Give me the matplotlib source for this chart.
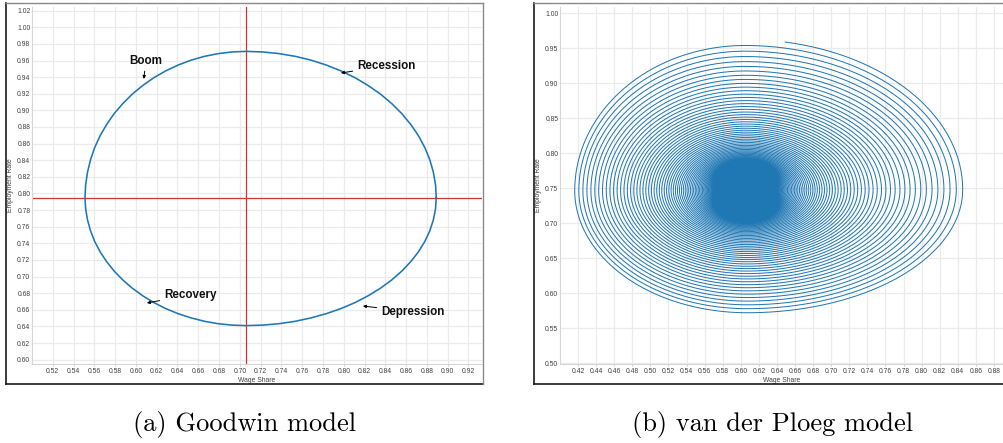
import numpy as np
import matplotlib
matplotlib.use("Agg")
import matplotlib.pyplot as plt
from matplotlib.lines import Line2D

W, H = 1004, 443

# (a) Goodwin model: closed orbit (counter-clockwise from the right)
wage_share_a = [
    0.8890, 0.8883, 0.8862, 0.8828, 0.8780, 0.8719, 0.8645, 0.8559, 0.8462, 0.8354,
    0.8236, 0.8110, 0.7975, 0.7833, 0.7686, 0.7534, 0.7378, 0.7220, 0.7060,
    0.6925, 0.6791, 0.6659, 0.6530, 0.6405, 0.6285, 0.6171, 0.6064, 0.5964,
    0.5873, 0.5790, 0.5718, 0.5655, 0.5603, 0.5563, 0.5534, 0.5516, 0.5510,
    0.5516, 0.5534, 0.5563, 0.5603, 0.5655, 0.5718, 0.5790, 0.5873, 0.5964,
    0.6064, 0.6171, 0.6285, 0.6405, 0.6530, 0.6659, 0.6791, 0.6925, 0.7060,
    0.7220, 0.7378, 0.7534, 0.7686, 0.7833, 0.7975, 0.8110, 0.8236, 0.8354,
    0.8462, 0.8559, 0.8645, 0.8719, 0.8780, 0.8828, 0.8862, 0.8883, 0.8890]
employment_a = [
    0.7950, 0.8103, 0.8256, 0.8405, 0.8552, 0.8694, 0.8830, 0.8960, 0.9081, 0.9195,
    0.9298, 0.9392, 0.9474, 0.9545, 0.9604, 0.9650, 0.9683, 0.9703, 0.9710,
    0.9703, 0.9683, 0.9650, 0.9604, 0.9545, 0.9474, 0.9392, 0.9298, 0.9195,
    0.9081, 0.8960, 0.8830, 0.8694, 0.8552, 0.8405, 0.8256, 0.8103, 0.7950,
    0.7816, 0.7683, 0.7551, 0.7423, 0.7299, 0.7180, 0.7067, 0.6960, 0.6861,
    0.6770, 0.6688, 0.6616, 0.6554, 0.6503, 0.6462, 0.6433, 0.6416, 0.6410,
    0.6416, 0.6433, 0.6462, 0.6503, 0.6554, 0.6616, 0.6688, 0.6770, 0.6861,
    0.6960, 0.7067, 0.7180, 0.7299, 0.7423, 0.7551, 0.7683, 0.7816, 0.7950]
equilibrium_a = (0.7055, 0.795)

labels_a = ["Boom", "Recession", "Depression", "Recovery"]
label_pos_a = [(0.6095, 0.9594), (0.8126, 0.9534), (0.8357, 0.6574), (0.6268, 0.6779)]
label_tip_a = [(0.6076, 0.9378), (0.7972, 0.9450), (0.8184, 0.6646), (0.6105, 0.6682)]
label_ha_a = ["center", "left", "left", "left"]

xticks_a = [0.52, 0.54, 0.56, 0.58, 0.60, 0.62, 0.64, 0.66, 0.68, 0.70, 0.72,
            0.74, 0.76, 0.78, 0.80, 0.82, 0.84, 0.86, 0.88, 0.90, 0.92]
yticks_a = [0.60, 0.62, 0.64, 0.66, 0.68, 0.70, 0.72, 0.74, 0.76, 0.78, 0.80,
            0.82, 0.84, 0.86, 0.88, 0.90, 0.92, 0.94, 0.96, 0.98, 1.00, 1.02]

# (b) van der Ploeg model: damped spiral
centre_b = (0.606, 0.747)
start_half_axes_b = {"right": 0.241, "left": 0.193, "top": 0.215, "bottom": 0.178}
start_angle_b = 0.18          # clockwise from the top, radians
n_turns_b = 170
decay_x_b = (0.027, 0.031)    # per turn: early, late
decay_y_b = (0.038, 0.031)
decay_settle_b = 10.0         # turns

xticks_b = [0.42, 0.44, 0.46, 0.48, 0.50, 0.52, 0.54, 0.56, 0.58, 0.60, 0.62, 0.64,
            0.66, 0.68, 0.70, 0.72, 0.74, 0.76, 0.78, 0.80, 0.82, 0.84, 0.86, 0.88]
yticks_b = [0.50, 0.55, 0.60, 0.65, 0.70, 0.75, 0.80, 0.85, 0.90, 0.95, 1.00]

BLUE = "#1f77b4"
TICK_FONT = "Liberation Sans"


def fx(px):
    return px / W


def fy(py):
    return 1 - py / H


def style_axes(ax, xticks, yticks):
    ax.set_xticks(xticks)
    ax.set_xticklabels([f"{t:.2f}" for t in xticks])
    ax.set_yticks(yticks)
    ax.set_yticklabels([f"{t:.2f}" for t in yticks])
    ax.grid(True, color="#ebebeb", lw=0.9)
    ax.set_axisbelow(True)
    for s in ax.spines.values():
        s.set_visible(False)
    ax.spines["left"].set_visible(True)
    ax.spines["bottom"].set_visible(True)
    ax.spines["left"].set_color("#d6d6d6")
    ax.spines["bottom"].set_color("#d6d6d6")
    ax.tick_params(axis="x", length=1.5, width=0.6, color="#c8c8c8", pad=1.2,
                   labelsize=4.9, labelcolor="#404040")
    ax.tick_params(axis="y", length=0, pad=1.2, labelsize=4.9, labelcolor="#404040")
    for lab in ax.get_xticklabels() + ax.get_yticklabels():
        lab.set_fontfamily(TICK_FONT)
    ax.set_xlabel("Wage Share", fontsize=4.9, family=TICK_FONT, color="#404040", labelpad=1.5)
    ax.set_ylabel("Employment Rate", fontsize=4.9, family=TICK_FONT, color="#404040")


def frame(fig, x0, y0, x1, y1, right=True):
    dark, light = "#1a1a1a", "#8a8a8a"
    fig.add_artist(Line2D([fx(x0), fx(x0)], [fy(y0), fy(y1)], color=dark, lw=1.2,
                          transform=fig.transFigure))
    fig.add_artist(Line2D([fx(x0), fx(x1)], [fy(y1), fy(y1)], color=dark, lw=1.2,
                          transform=fig.transFigure))
    fig.add_artist(Line2D([fx(x0), fx(x1)], [fy(y0), fy(y0)], color=light, lw=1.0,
                          transform=fig.transFigure))
    if right:
        fig.add_artist(Line2D([fx(x1), fx(x1)], [fy(y0), fy(y1)], color=light, lw=1.0,
                              transform=fig.transFigure))


fig = plt.figure(figsize=(W / 100, H / 100), dpi=100)

# ---- panel (a)
ax1 = fig.add_axes([fx(32), fy(364), fx(482) - fx(32), fy(7) - fy(364)])
ax1.set_xlim(0.50, 0.933)
ax1.set_ylim(0.5948, 1.0244)
style_axes(ax1, xticks_a, yticks_a)
ax1.axvline(equilibrium_a[0], color="#c83737", lw=0.9, zorder=2)
ax1.axhline(equilibrium_a[1], color="#c83737", lw=0.9, zorder=2)
ax1.plot(wage_share_a, employment_a, color=BLUE, lw=1.15, zorder=3)
for txt, pos, tip, ha in zip(labels_a, label_pos_a, label_tip_a, label_ha_a):
    ax1.annotate(txt, xy=tip, xytext=pos, ha=ha, va="center", fontsize=8.4,
                 fontweight="bold", family=TICK_FONT, color="#111111", zorder=4,
                 arrowprops=dict(arrowstyle="-|>", color="black", lw=0.7,
                                 mutation_scale=4.5, shrinkA=1, shrinkB=0))

# ---- panel (b)
ax2 = fig.add_axes([fx(560), fy(364), fx(1003) - fx(560), fy(7) - fy(364)])
ax2.set_xlim(0.40, 0.89)
ax2.set_ylim(0.4986, 1.0086)
style_axes(ax2, xticks_b, yticks_b)

turns = np.linspace(0, n_turns_b, n_turns_b * 300)
phi = start_angle_b + 2 * np.pi * turns


def log_scale(n, decay):
    early, late = decay
    return -(late * n + (early - late) * decay_settle_b * (1 - np.exp(-n / decay_settle_b)))


sx = np.exp(log_scale(turns, decay_x_b))
sy = np.exp(log_scale(turns, decay_y_b))
# the egg-shaped outer loops become a symmetric ellipse near the focus
mid_x = (start_half_axes_b["right"] + start_half_axes_b["left"]) / 2
mid_y = (start_half_axes_b["top"] + start_half_axes_b["bottom"]) / 2
hx = np.where(np.sin(phi) >= 0, start_half_axes_b["right"], start_half_axes_b["left"])
hy = np.where(np.cos(phi) >= 0, start_half_axes_b["top"], start_half_axes_b["bottom"])
hx = mid_x + (hx - mid_x) * sx
hy = mid_y + (hy - mid_y) * sy
xs = centre_b[0] + hx * sx * np.sin(phi)
ys = centre_b[1] + hy * sy * np.cos(phi)
ax2.plot(xs, ys, color=BLUE, lw=0.72, zorder=3)

# y labels sit just inside the screenshot frames
ax1.yaxis.set_label_coords((14.5 - 32) / 450, 0.5)
ax2.yaxis.set_label_coords((542.5 - 560) / 443, 0.5)

frame(fig, 6, 3, 483, 384)
frame(fig, 534, 3, 1004, 384, right=False)

fig.text(fx(245), fy(425), "(a) Goodwin model", ha="center", va="center",
         family="cmr10", fontsize=19)
fig.text(fx(773), fy(425), "(b) van der Ploeg model", ha="center", va="center",
         family="cmr10", fontsize=19)

fig.savefig("out.png", dpi=100)
